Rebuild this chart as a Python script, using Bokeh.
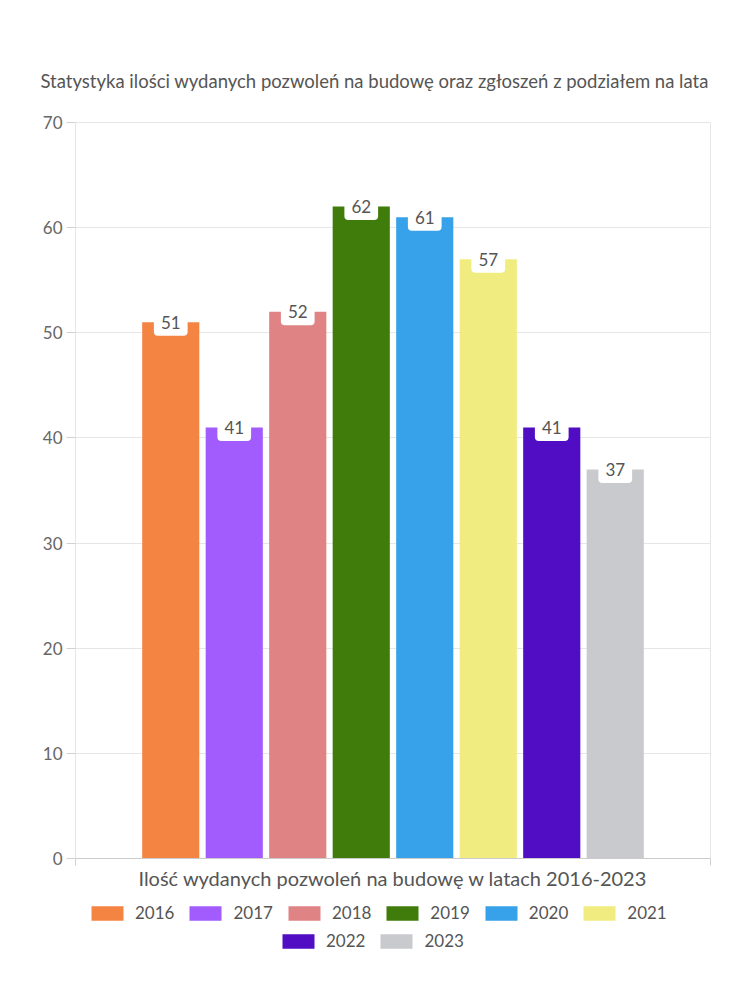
from bokeh.plotting import figure
from bokeh.layouts import column
from bokeh.models import ColumnDataSource, Range1d, FixedTicker, Legend, LegendItem
from bokeh.core.properties import value
from bokeh.embed import file_html
from bokeh.resources import INLINE

chart_title = "Statystyka ilości wydanych pozwoleń na budowę oraz zgłoszeń z podziałem na lata"
x_title = "Ilość wydanych pozwoleń na budowę w latach 2016-2023"
years = ["2016", "2017", "2018", "2019", "2020", "2021", "2022", "2023"]
counts = [51, 41, 52, 62, 61, 57, 41, 37]
colors = ["#F48442", "#A25BFD", "#E08385", "#3F7C0B", "#37A2EA", "#F0EC7F", "#500DC3", "#C9CACE"]
y_ticks = [0, 10, 20, 30, 40, 50, 60, 70]

FONT = "Lato"
TXT = "#555555"

n = len(years)
src = ColumnDataSource(dict(
    x=list(range(n)),
    top=counts,
    color=colors,
    label=[str(c) for c in counts],
))

p = figure(frame_width=635, frame_height=736, output_backend="svg", toolbar_location=None,
           x_range=Range1d(-1.5, n + 0.5), y_range=Range1d(0, 70),
           min_border_left=75, min_border_right=40, min_border_top=122,
           min_border_bottom=38)
p.title.text = chart_title
p.title.align = "left"
p.title.offset = -35
p.title.text_font = FONT
p.title.text_font_size = "18.5px"
p.title.text_font_style = "normal"
p.title.text_color = TXT
p.title.standoff = 62

p.outline_line_color = "#e6e6e6"
p.background_fill_color = "white"
p.border_fill_color = "white"

p.xgrid.grid_line_color = None
p.ygrid.grid_line_color = "#e6e6e6"
p.ygrid.ticker = FixedTicker(ticks=y_ticks)

p.yaxis.ticker = FixedTicker(ticks=y_ticks)
p.yaxis.axis_line_color = "#e6e6e6"
p.yaxis.major_tick_line_color = "#d0d0d0"
p.yaxis.major_tick_out = 9
p.yaxis.major_tick_in = 0
p.yaxis.minor_tick_line_color = None
p.yaxis.major_label_text_font = FONT
p.yaxis.major_label_text_font_size = "17px"
p.yaxis.major_label_text_color = "#666666"
p.yaxis.major_label_standoff = 4

p.xaxis.ticker = FixedTicker(ticks=[-1.5, n + 0.5])
p.xaxis.axis_line_color = "#cccccc"
p.xaxis.major_tick_line_color = "#d0d0d0"
p.xaxis.major_tick_out = 7
p.xaxis.major_tick_in = 0
p.xaxis.minor_tick_line_color = None
p.xaxis.major_label_text_font_size = "0px"
p.xaxis.major_label_text_color = None
p.xaxis.axis_label = x_title
p.xaxis.axis_label_text_font = FONT
p.xaxis.axis_label_text_font_size = "20px"
p.xaxis.axis_label_text_font_style = "normal"
p.xaxis.axis_label_text_color = TXT
p.xaxis.axis_label_standoff = 0

p.vbar(x="x", top="top", width=0.9, fill_color="color", line_color=None, source=src)

p.text(x="x", y="top", text="label", text_align="center", text_baseline="middle",
       text_font=value(FONT), text_font_size="17px", text_color=TXT,
       background_fill_color="white", border_radius=4, padding=7, source=src)

# legend strip below the chart
lf = figure(width=750, height=70, output_backend="svg", toolbar_location=None,
            x_range=Range1d(100, 101), y_range=Range1d(100, 101),
            x_axis_location=None, y_axis_location=None,
            min_border=0)
lf.outline_line_color = None
lf.grid.grid_line_color = None
lbars = lf.vbar(x="x", top="top", width=0.9, fill_color="color", line_color=None, source=src)

items1 = [LegendItem(label=years[i], renderers=[lbars], index=i) for i in range(6)]
items2 = [LegendItem(label=years[i], renderers=[lbars], index=i) for i in range(6, n)]
for items, loc in ((items1, (12, 43)), (items2, (203, 15))):
    lg = Legend(items=items, orientation="horizontal", location=loc,
                glyph_width=40, glyph_height=18, label_standoff=8, spacing=11,
                label_text_font=FONT, label_text_font_size="17px", label_text_color=TXT,
                border_line_color=None, background_fill_alpha=0,
                padding=2, margin=0)
    lf.add_layout(lg, "center")

layout = column(p, lf, spacing=0)
open("out.html", "w").write(file_html(layout, INLINE))
